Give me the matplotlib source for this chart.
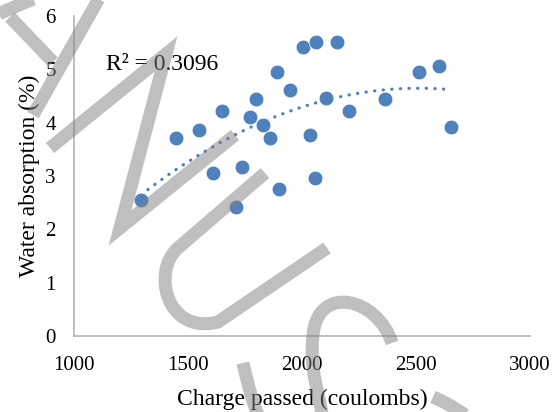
import numpy as np
import matplotlib.pyplot as plt
from matplotlib.path import Path
from matplotlib.patches import PathPatch
from matplotlib.transforms import Affine2D

plt.rcParams['font.family'] = ['Liberation Serif', 'DejaVu Serif']

# charge passed (coulombs) vs water absorption (%)
charge = [1294, 1447, 1548, 1649, 1610, 1737, 1711, 1772, 1798, 1829, 1860, 1890,
          1899, 1947, 2004, 2061, 2035, 2057, 2154, 2105, 2206, 2364, 2513, 2601, 2654]
absorption = [2.55, 3.71, 3.86, 4.22, 3.06, 3.17, 2.42, 4.11, 4.44, 3.96, 3.71, 4.95,
              2.76, 4.61, 5.42, 5.51, 3.77, 2.96, 5.51, 4.46, 4.22, 4.44, 4.95, 5.06, 3.92]
r2_label = "R² = 0.3096"
x_ticks = [1000, 1500, 2000, 2500, 3000]
y_ticks = [0, 1, 2, 3, 4, 5, 6]

blue = '#4F81BD'
axis_grey = '#B3B3B3'

fig = plt.figure(figsize=(5.6, 4.12), dpi=100)
ax = fig.add_axes([0.132, 0.184, 0.814, 0.777])

ax.scatter(charge, absorption, s=112, color=blue, edgecolors='white', linewidths=0.5, zorder=3)

# second-order polynomial trendline
coef = np.polyfit(charge, absorption, 2)
xs = np.linspace(min(charge), max(charge), 200)
ax.plot(xs, np.polyval(coef, xs), color=blue, lw=2.3, linestyle=(0, (0.1, 2.6)),
        dash_capstyle='round', zorder=2)

ax.text(1140, 5.1, r2_label, fontsize=17, ha='left', va='center')

ax.set_xlim(1000, 3000)
ax.set_ylim(0, 6)
ax.set_xticks(x_ticks)
ax.set_yticks(y_ticks)
ax.tick_params(length=0, labelsize=15)
ax.tick_params(axis='x', pad=14.5)
ax.tick_params(axis='y', pad=13)
for side in ['top', 'right']:
    ax.spines[side].set_visible(False)
for side in ['left', 'bottom']:
    ax.spines[side].set_color(axis_grey)
    ax.spines[side].set_linewidth(1.2)

ax.set_xlabel("Charge passed (coulombs)", fontsize=17, labelpad=10)
ax.set_ylabel("Water absorption (%)", fontsize=17, labelpad=4)

# watermark strokes, in pixel coordinates from the top-left corner
px = Affine2D().scale(1 / 560, -1 / 412).translate(0, 1) + fig.transFigure
M, L, C = Path.MOVETO, Path.LINETO, Path.CURVE4
strokes = [
    ([(-2, 14), (38, -3)], [M, L]),
    ([(10, 17), (53, 62)], [M, L]),
    ([(101, -5), (33, 115)], [M, L]),
    ([(50, 148), (166, 54), (120, 228), (235, 135)], [M, L, L, L]),
    ([(265, 173), (178, 248), (152, 270), (165, 335), (218, 322), (327, 248)],
     [M, L, C, C, C, L]),
    ([(392, 343), (378, 298), (318, 283), (313, 335), (309, 372), (320, 395), (322, 415)],
     [M, C, C, C, C, C, C]),
    ([(243, 363), (248, 385), (252, 400), (258, 415)], [M, C, C, C]),
    ([(433, 397), (445, 402), (455, 408), (465, 415)], [M, C, C, C]),
]
for verts, codes in strokes:
    fig.add_artist(PathPatch(Path(verts, codes), transform=px, fill=False,
                             edgecolor='#808080', alpha=0.5, lw=9.4,
                             joinstyle='miter', capstyle='butt', zorder=5))

fig.savefig('out.png', dpi=100)
